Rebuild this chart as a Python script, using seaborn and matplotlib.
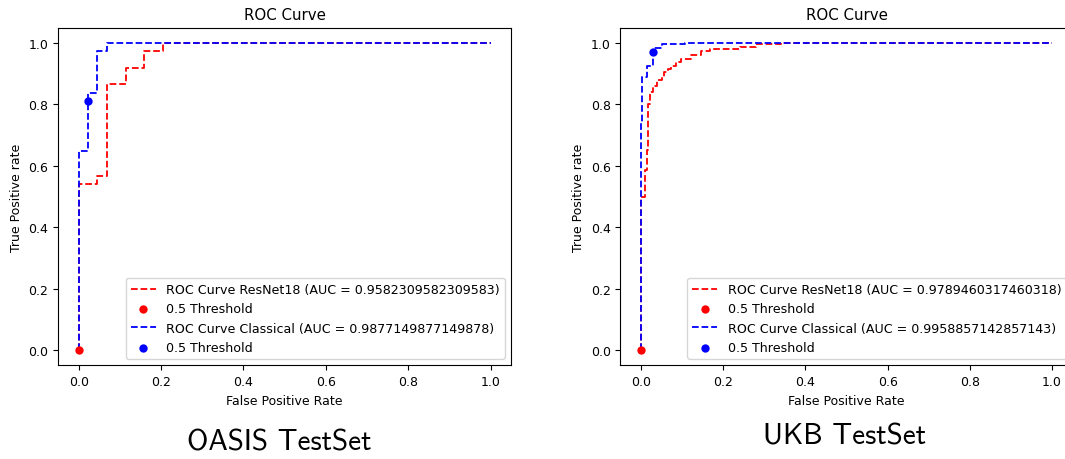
import matplotlib
matplotlib.use("Agg")
import matplotlib.pyplot as plt
import seaborn as sns

# ROC curve corners
oasis_resnet_fpr = [0.0, 0.0, 0.045, 0.045, 0.068, 0.068, 0.114, 0.114, 0.159, 0.159, 0.205, 0.205, 1.0]
oasis_resnet_tpr = [0.0, 0.541, 0.541, 0.568, 0.568, 0.865, 0.865, 0.919, 0.919, 0.973, 0.973, 1.0, 1.0]
oasis_classic_fpr = [0.0, 0.0, 0.023, 0.023, 0.045, 0.045, 0.068, 0.068, 1.0]
oasis_classic_tpr = [0.0, 0.649, 0.649, 0.838, 0.838, 0.973, 0.973, 1.0, 1.0]

ukb_resnet_fpr = [0.0, 0.0, 0.010, 0.010, 0.014, 0.014, 0.018, 0.018, 0.022, 0.022, 0.030, 0.030,
                  0.040, 0.040, 0.050, 0.050, 0.057, 0.057, 0.065, 0.065, 0.073, 0.073, 0.085, 0.085,
                  0.097, 0.097, 0.121, 0.121, 0.146, 0.146, 0.167, 0.167, 0.240, 0.240, 0.280, 0.280,
                  0.340, 0.340, 1.0]
ukb_resnet_tpr = [0.0, 0.500, 0.500, 0.585, 0.585, 0.650, 0.650, 0.800, 0.800, 0.840, 0.840, 0.860,
                  0.860, 0.878, 0.878, 0.890, 0.890, 0.905, 0.905, 0.915, 0.915, 0.926, 0.926, 0.938,
                  0.938, 0.948, 0.948, 0.960, 0.960, 0.975, 0.975, 0.980, 0.980, 0.988, 0.988, 0.996,
                  0.996, 1.0, 1.0]
ukb_classic_fpr = [0.0, 0.0, 0.003, 0.003, 0.014, 0.014, 0.028, 0.028, 0.050, 0.050, 0.107, 0.107, 1.0]
ukb_classic_tpr = [0.0, 0.740, 0.740, 0.888, 0.888, 0.926, 0.926, 0.985, 0.985, 0.997, 0.997, 1.0, 1.0]

# 0.5 threshold operating points (fpr, tpr)
oasis_resnet_thr = (0.0, 0.0)
oasis_classic_thr = (0.023, 0.811)
ukb_resnet_thr = (0.0, 0.0)
ukb_classic_thr = (0.028, 0.970)

auc_labels = {
    "oasis": ("0.9582309582309583", "0.9877149877149878"),
    "ukb": ("0.9789460317460318", "0.9958857142857143"),
}

plt.rcParams["font.size"] = 9


def roc_panel(ax, r_fpr, r_tpr, r_thr, c_fpr, c_tpr, c_thr, aucs):
    sns.lineplot(x=r_fpr, y=r_tpr, sort=False, estimator=None, ax=ax, color="red",
                 linestyle="--", linewidth=1.3, label=f"ROC Curve ResNet18 (AUC = {aucs[0]})")
    sns.scatterplot(x=[r_thr[0]], y=[r_thr[1]], ax=ax, color="red", s=36, linewidth=0,
                    label="0.5 Threshold", zorder=3)
    sns.lineplot(x=c_fpr, y=c_tpr, sort=False, estimator=None, ax=ax, color="blue",
                 linestyle="--", linewidth=1.3, label=f"ROC Curve Classical (AUC = {aucs[1]})")
    sns.scatterplot(x=[c_thr[0]], y=[c_thr[1]], ax=ax, color="blue", s=36, linewidth=0,
                    label="0.5 Threshold", zorder=3)
    ax.set_xlim(-0.05, 1.05)
    ax.set_ylim(-0.05, 1.05)
    ax.set_title("ROC Curve", fontsize=10.8)
    ax.set_xlabel("False Positive Rate")
    ax.set_ylabel("True Positive rate")
    ax.legend(loc="lower right", fontsize=9.1)


fig = plt.figure(figsize=(10.65, 4.6), dpi=100)
ax1 = fig.add_axes([0.0545, 0.2036, 0.4255, 0.734])
ax2 = fig.add_axes([0.5826, 0.2036, 0.4245, 0.734])

roc_panel(ax1, oasis_resnet_fpr, oasis_resnet_tpr, oasis_resnet_thr,
          oasis_classic_fpr, oasis_classic_tpr, oasis_classic_thr, auc_labels["oasis"])
roc_panel(ax2, ukb_resnet_fpr, ukb_resnet_tpr, ukb_resnet_thr,
          ukb_classic_fpr, ukb_classic_tpr, ukb_classic_thr, auc_labels["ukb"])

fig.text(279.5 / 1065, 1 - 443 / 460, "OASIS TestSet", family="cmss10", fontsize=21,
         ha="center", va="center")
fig.text(845 / 1065, 1 - 437 / 460, "UKB TestSet", family="cmss10", fontsize=21,
         ha="center", va="center")

fig.savefig("out.png", dpi=100)
